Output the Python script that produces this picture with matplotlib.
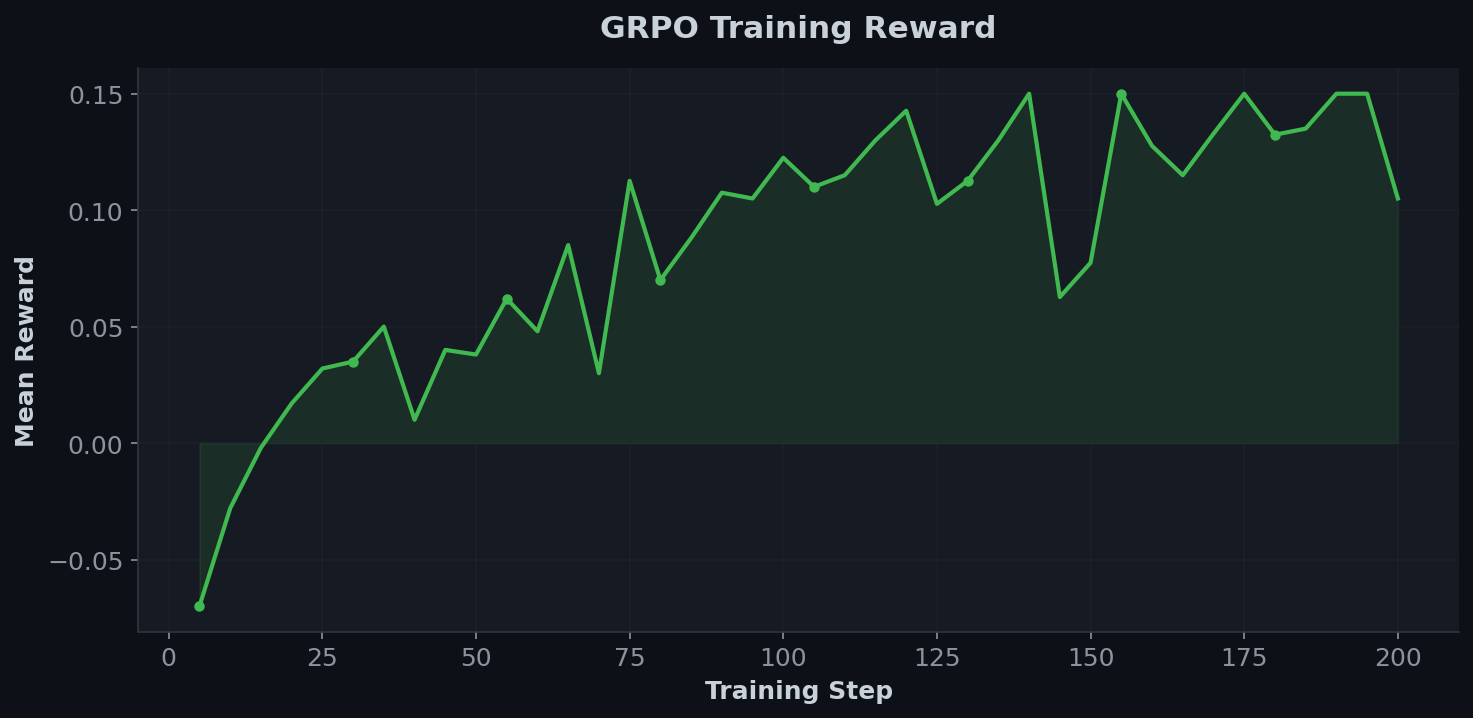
import numpy as np
import matplotlib.pyplot as plt

steps = list(range(5, 205, 5))
reward = [-0.070, -0.028, -0.002, 0.017, 0.032, 0.035, 0.050, 0.010, 0.040, 0.038,
          0.062, 0.048, 0.085, 0.030, 0.1126, 0.070, 0.088, 0.1075, 0.105, 0.1225,
          0.110, 0.115, 0.130, 0.1427, 0.1027, 0.1126, 0.130, 0.150, 0.0627, 0.0774,
          0.150, 0.1276, 0.115, 0.1328, 0.150, 0.1324, 0.135, 0.150, 0.150, 0.105]

bg = '#0d1017'
ax_bg = '#161a22'
green = '#3fb950'
text_c = '#c9d1d9'
tick_c = '#8b949e'

fig = plt.figure(figsize=(9.82, 4.793), dpi=150, facecolor=bg)
ax = fig.add_axes([0.0937, 0.12, 0.897, 0.784])
ax.set_facecolor(ax_bg)

ax.fill_between(steps, 0, reward, color=green, alpha=0.12, linewidth=0.8)
ax.plot(steps, reward, color=green, linewidth=2, marker='o', markersize=4, markevery=5)

ax.set_xlim(-5, 210)
ax.set_ylim(-0.081, 0.161)
ax.set_xticks([0, 25, 50, 75, 100, 125, 150, 175, 200])
ax.set_yticks([-0.05, 0.0, 0.05, 0.10, 0.15])
ax.grid(True, color='#262b33', alpha=0.35, linewidth=0.8)

for s in ['top', 'right']:
    ax.spines[s].set_visible(False)
for s in ['left', 'bottom']:
    ax.spines[s].set_color('#30363d')
ax.tick_params(colors=tick_c, labelsize=12)
for t in ax.get_xticklabels() + ax.get_yticklabels():
    t.set_color(tick_c)

ax.set_xlabel('Training Step', color=text_c, fontsize=12, fontweight='bold')
ax.set_ylabel('Mean Reward', color=text_c, fontsize=12, fontweight='bold')
ax.set_title('GRPO Training Reward', color=text_c, fontsize=15, fontweight='bold', pad=15)

fig.savefig('out.png', dpi=150, facecolor=bg)
